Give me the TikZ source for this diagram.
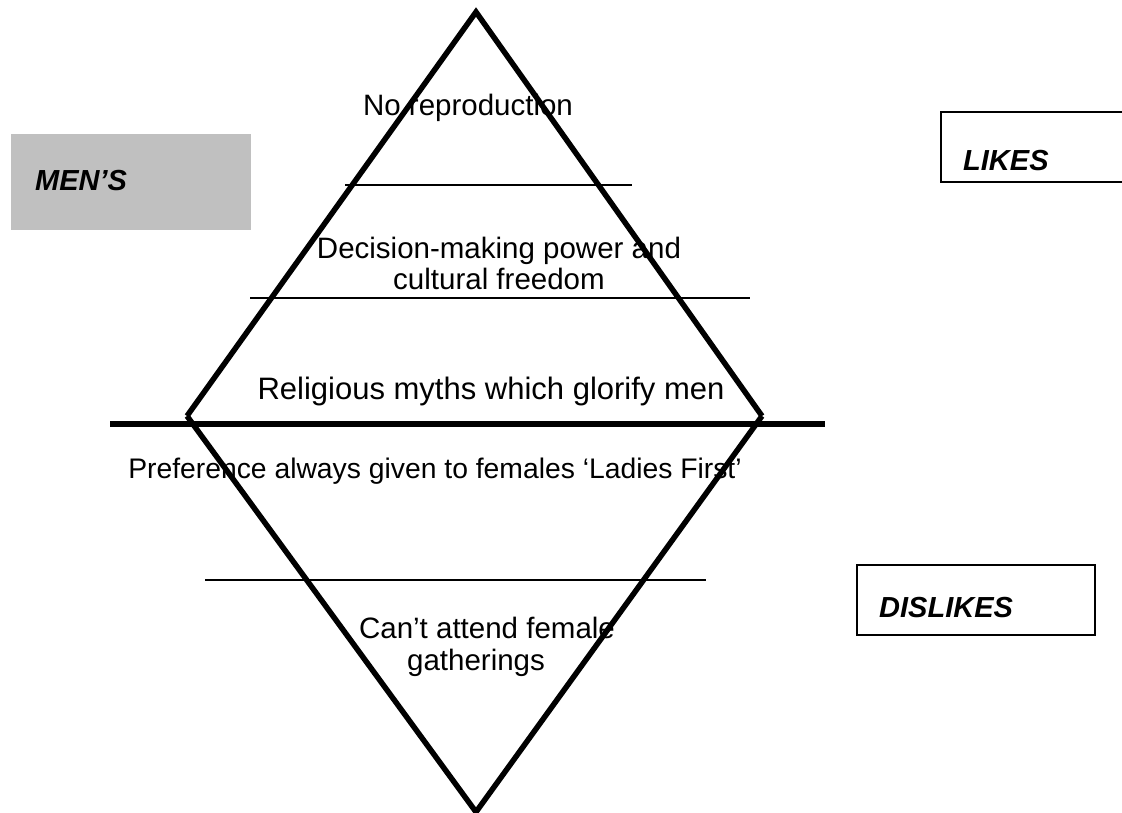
\documentclass[tikz,border=0pt]{standalone}
\usepackage{fontspec}
\setmainfont{Liberation Sans}
\begin{document}
\begin{tikzpicture}[x=1pt,y=-1pt,
  body/.style={font=\fontsize{29.5}{31.5}\selectfont, inner sep=0pt, anchor=base, align=center},
  label/.style={font=\fontsize{29}{31}\selectfont\bfseries\itshape, inner sep=0pt, anchor=base west},
  side/.style={line width=5.5pt, line join=miter},
  thin/.style={line width=1.5pt},
  frame/.style={line width=1.8pt}]
\useasboundingbox (0,0) rectangle (1122,813);
% side boxes
\fill[fill={rgb,255:red,192;green,192;blue,192}] (11,134) rectangle (251,230);
\node[label] (mens) at (35,191) {MEN’S};
\draw[frame] (1125,112) -- (941,112) -- (941,182) -- (1125,182);
\node[label] (likes) at (963,171) {LIKES};
\draw[frame] (857,565) rectangle (1095,635);
\node[label] (dislikes) at (879,617) {DISLIKES};
% divider lines
\draw[thin] (345,185) -- (632,185);
\draw[thin] (250,298) -- (750,298);
\draw[thin] (205,580) -- (706,580);
\draw[line width=5.5pt] (110,424) -- (825,424);
% texts
\node[body] (t1) at (468,116) {No reproduction};
\node[body] (t2) at (499,290) {Decision-making power and\\cultural freedom};
\node[body, font=\fontsize{31}{33}\selectfont] (t3) at (491,399) {Religious myths which glorify men};
\node[body, font=\fontsize{28.3}{30}\selectfont] (t4) at (435,478) {Preference always given to females ‘Ladies First’};
\node[body] (t5) at (487,638) {Can’t attend female};
\node[body] (t6) at (476,670) {gatherings};
% diamond sides
\coordinate (top) at (476,12);
\coordinate (left) at (187,416);
\coordinate (right) at (762,416);
\coordinate (bottom) at (476,812);
\draw[side] (left) -- (top) -- (right);
\draw[side] (left) -- (bottom) -- (right);
\end{tikzpicture}
\end{document}
